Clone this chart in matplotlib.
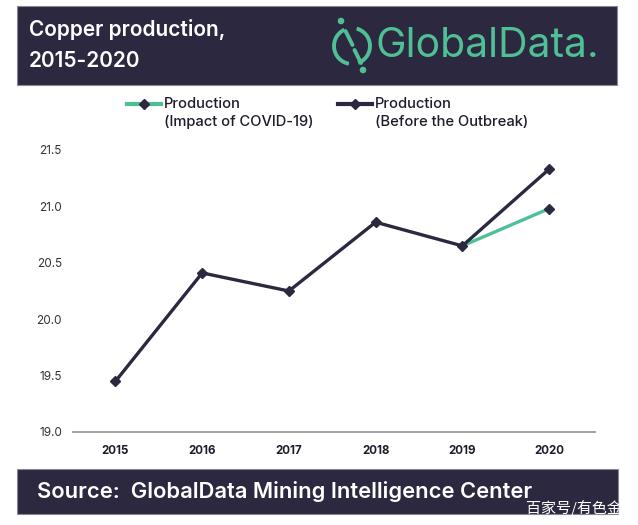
import matplotlib
matplotlib.use("Agg")
import matplotlib.pyplot as plt
from matplotlib.patches import Rectangle, Arc, Circle
from matplotlib.lines import Line2D

plt.rcParams['font.family'] = ['Inter', 'Noto Sans CJK SC', 'DejaVu Sans']

# data
years = ['2015', '2016', '2017', '2018', '2019', '2020']
before_outbreak = [19.45, 20.41, 20.25, 20.86, 20.65, 21.33]
covid_years = ['2019', '2020']
covid_impact = [20.65, 20.98]
yticks = [19.0, 19.5, 20.0, 20.5, 21.0, 21.5]

NAVY = '#2c283f'
GREEN = '#4fc096'
LINE_DARK = '#2b2940'

W, H = 638, 525
fig = plt.figure(figsize=(W / 100, H / 100), dpi=100)

# overlay in pixel coords (y down) for header / footer / logo
bg = fig.add_axes([0, 0, 1, 1], zorder=0)
bg.set_xlim(0, W)
bg.set_ylim(H, 0)
bg.axis('off')

bg.add_patch(Rectangle((17, 6), 600, 79, facecolor=NAVY, edgecolor='#8a8898', lw=0.8))
bg.text(29, 29, 'Copper production,', color='white', fontsize=15, fontweight='semibold', va='center', ha='left')
bg.text(29, 61, '2015-2020', color='white', fontsize=15, fontweight='semibold', va='center', ha='left')

# logo mark
cx, cy, r = 352, 46, 18
bg.add_patch(Arc((cx, cy), 2 * r, 2 * r, theta1=100, theta2=245, color=GREEN, lw=2.8))
bg.add_patch(Arc((cx, cy), 2 * r, 2 * r, theta1=-75, theta2=70, color=GREEN, lw=2.8))
bg.plot([345.5, 352.5], [31, 45], color=GREEN, lw=2.8, solid_capstyle='round')
bg.plot([354.5, 361], [50, 63], color=GREEN, lw=2.8, solid_capstyle='round')
bg.add_patch(Circle((341, 21), 2.6, color=GREEN))
bg.add_patch(Circle((363, 70), 2.6, color=GREEN))
bg.text(376, 46, 'GlobalData.', color=GREEN, fontsize=29.5, va='center', ha='left')

# footer
bg.add_patch(Rectangle((17, 469), 601, 45, facecolor=NAVY, edgecolor='#8a8898', lw=0.8))
bg.text(37, 492, 'Source:  GlobalData Mining Intelligence Center', color='white',
        fontsize=15.8, fontweight='semibold', va='center', ha='left')
wm = bg.text(526, 508, '百家号/有色金属', color='white', fontsize=10.8, va='center', ha='left',
             family=['Noto Sans CJK SC', 'DejaVu Sans'], zorder=5)
clip = Rectangle((0, 0), 617, H, transform=bg.transData)
wm.set_clip_path(clip)

# legend drawn by hand
legend_items = [(127, GREEN, 'Production', '(Impact of COVID-19)'),
                (338, LINE_DARK, 'Production', '(Before the Outbreak)')]
for x0, col, l1, l2 in legend_items:
    bg.add_line(Line2D([x0, x0 + 34], [104, 104], color=col, lw=3))
    bg.plot([x0 + 17], [104], marker='D', ms=5.5, color=LINE_DARK)
    bg.text(x0 + 37, 104, l1, fontsize=10.6, fontweight='medium', va='center', ha='left', color='#1e1c2a')
    bg.text(x0 + 37, 122, l2, fontsize=10.6, fontweight='medium', va='center', ha='left', color='#1e1c2a')

# main chart
ax = fig.add_axes([73 / W, (H - 432) / H, (595 - 73) / W, (432 - 150) / H], zorder=1)
ax.patch.set_alpha(0)
xpos = list(range(len(years)))
cov_pos = [years.index(y) for y in covid_years]
ax.plot(cov_pos, covid_impact, color=GREEN, lw=2.4, zorder=2)
ax.plot(cov_pos[-1:], covid_impact[-1:], color=LINE_DARK, marker='D', ms=5.5, ls='none', zorder=4)
ax.plot(xpos, before_outbreak, color=LINE_DARK, lw=2.4, marker='D', ms=5.5, zorder=3)

ax.set_xlim(-0.49, 5.53)
ax.set_ylim(19.0, 21.5)
ax.set_xticks(xpos)
ax.set_xticklabels(years, fontsize=8.3, fontweight='bold', color='#1e1c2a')
ax.set_yticks(yticks)
ax.set_yticklabels([f'{v:.1f}' for v in yticks], fontsize=8.5, color='#333333')
ax.tick_params(length=0)
ax.tick_params(axis='y', pad=8)
ax.tick_params(axis='x', pad=9)
for s in ['top', 'right', 'left']:
    ax.spines[s].set_visible(False)
ax.spines['bottom'].set_color('#9a9a9a')
ax.spines['bottom'].set_linewidth(1.3)
for line in ax.get_lines():
    line.set_clip_on(False)

fig.savefig('out.png', dpi=100)
